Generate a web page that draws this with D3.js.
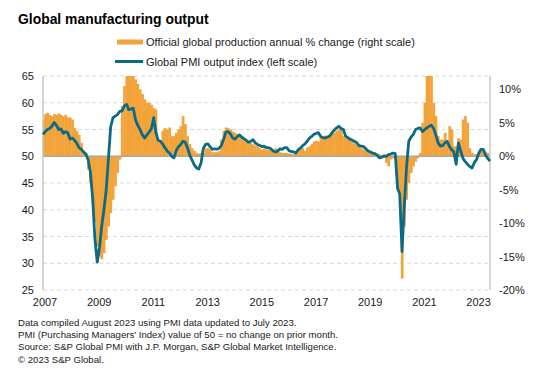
<!DOCTYPE html>
<html><head><meta charset="utf-8">
<script src="https://cdn.jsdelivr.net/npm/d3@7"></script>
<style>
body{margin:0;background:#fff}
svg{display:block;font-family:Arial,"Liberation Sans",sans-serif}
</style>
</head><body>
<svg id="chart" width="544" height="382"></svg>
<script>
// ---------- DATA (monthly, Jan 2007 onwards) ----------
const firstMonth = new Date(2007, 0, 1);

// Global PMI output index (left scale), Jan 2007 - Jul 2023
const pmiOutput = [
  54.1, 54.6, 55.0, 55.2, 55.6, 56.3, 55.8, 55.0, 55.1, 54.3, 54.6, 54.4, // 2007
  53.2, 53.4, 53.0, 52.4, 51.6, 51.3, 50.8, 50.4, 49.3, 47.0, 42.0, 34.5, // 2008
  30.2, 33.0, 36.8, 40.0, 43.5, 49.5, 55.5, 57.2, 57.5, 57.8, 58.4, 58.5, // 2009
  59.4, 59.7, 58.7, 58.8, 59.0, 56.8, 55.8, 55.0, 54.0, 53.4, 54.0, 54.5, // 2010
  55.2, 57.2, 54.6, 53.0, 52.8, 52.3, 51.6, 51.0, 50.6, 50.0, 49.7, 51.0, // 2011
  51.8, 52.2, 52.8, 52.6, 51.6, 50.2, 49.3, 48.4, 47.8, 47.6, 48.8, 51.5, // 2012
  52.2, 52.3, 51.8, 51.3, 51.4, 51.3, 51.5, 52.0, 53.2, 54.5, 54.6, 54.2, // 2013
  53.4, 53.2, 53.6, 54.0, 53.6, 53.3, 53.0, 52.6, 52.8, 53.1, 52.5, 52.2, // 2014
  52.0, 51.8, 51.9, 51.6, 51.6, 51.4, 51.0, 50.8, 51.0, 51.4, 51.3, 51.6, // 2015
  51.6, 51.0, 50.9, 50.8, 50.6, 51.2, 51.5, 52.0, 52.3, 52.8, 53.4, 53.7, // 2016
  54.1, 54.3, 54.4, 53.7, 53.5, 53.4, 53.6, 53.8, 54.4, 54.9, 55.3, 55.6, // 2017
  55.2, 55.0, 53.8, 53.5, 53.2, 53.0, 52.8, 52.5, 52.0, 51.9, 51.8, 51.4, // 2018
  51.0, 50.8, 50.6, 50.5, 50.2, 49.7, 49.8, 50.0, 50.0, 50.3, 50.4, 50.6, // 2019
  50.5, 44.0, 43.0, 32.2, 40.5, 48.0, 52.8, 53.6, 54.1, 55.0, 55.2, 55.3, // 2020
  54.6, 55.0, 55.3, 55.6, 55.8, 55.2, 54.0, 52.5, 51.9, 52.0, 52.5, 52.8, // 2021
  51.8, 51.2, 50.8, 48.5, 52.5, 51.0, 49.6, 49.0, 48.5, 48.1, 47.8, 48.8, // 2022
  49.4, 50.6, 51.3, 51.3, 50.2, 49.6, 49.1                                // 2023
];

// Official global production annual % change (right scale), Jan 2007 - Jun 2023
const productionChange = [
  5.5, 6.3, 6.5, 6.2, 6.0, 6.3, 6.2, 6.4, 6.2, 6.0, 6.2, 5.8,             // 2007
  5.8, 5.5, 4.2, 3.8, 3.2, 2.0, 0.8, 0.3, -2.0, -4.0, -7.0, -10.0,        // 2008
  -13.5, -15.0, -15.4, -14.5, -12.5, -10.5, -8.5, -6.5, -4.5, -2.5, -0.5, 7.5, // 2009
  10.5, 12.8, 13.0, 12.8, 12.5, 11.5, 10.8, 10.0, 9.3, 8.5, 8.0, 8.0,     // 2010
  7.7, 7.2, 7.0, 2.5, 2.0, 3.8, 4.2, 4.0, 4.3, 3.0, 3.0, 3.5,             // 2011
  4.0, 4.5, 6.0, 4.8, 3.0, 1.8, 1.2, 0.8, 0.5, 0.4, 0.5, 0.5,             // 2012
  1.2, 1.2, 1.0, 0.6, 0.6, 0.6, 0.8, 2.5, 3.8, 4.3, 4.2, 4.0,             // 2013
  3.7, 3.5, 3.3, 3.3, 2.8, 2.4, 2.2, 2.0, 2.0, 1.8, 1.6, 1.5,             // 2014
  1.2, 1.0, 1.2, 1.0, 1.0, 1.0, 0.9, 1.2, 1.1, 0.6, 0.5, 0.5,             // 2015
  0.5, 0.4, 0.4, 0.3, 0.4, 0.8, 1.0, 1.2, 0.8, 1.3, 1.5, 1.8,             // 2016
  2.2, 2.3, 2.2, 2.8, 3.0, 3.1, 3.0, 3.2, 3.4, 3.5, 3.8, 4.0,             // 2017
  4.2, 3.0, 2.8, 2.7, 2.6, 2.2, 1.9, 1.7, 1.6, 1.2, 1.0, 0.9,             // 2018
  0.8, 0.6, 0.5, 0.4, 0.4, 0.3, 0.2, 0.3, -1.0, -1.5, -0.5, -0.3,         // 2019
  -0.5, -5.0, -5.5, -18.3, -10.5, -6.5, -4.0, -2.5, -1.5, -0.8, -0.3, 0.5, // 2020
  5.0, 8.0, 12.5, 14.0, 14.0, 8.0, 6.0, 3.0, 2.5, 2.5, 3.5, 2.2,          // 2021
  4.5, 4.0, 1.5, 1.5, 2.7, 2.5, 5.5, 6.0, 5.0, 1.2, 0.5, 0.3,             // 2022
  0.3, 0.5, 0.8, 1.0, 0.7, 0.5                                            // 2023
];

const yearTicks = [2007, 2009, 2011, 2013, 2015, 2017, 2019, 2021, 2023];
const leftTicks = [25, 30, 35, 40, 45, 50, 55, 60, 65];
const rightTicks = [-20, -15, -10, -5, 0, 5, 10];

const titleText = "Global manufacturing output";
const legendLabels = ["Official global production annual % change (right scale)",
                      "Global PMI output index (left scale)"];
const footnotes = [
  "Data compiled August 2023 using PMI data updated to July 2023.",
  "PMI (Purchasing Managers' Index) value of 50 = no change on prior month.",
  "Source: S&P Global PMI with J.P. Morgan, S&P Global Market Intelligence.",
  "\u00A9 2023 S&P Global."
];

// ---------- DRAW ----------
const orange = "#F2A33A", teal = "#0B6B87", grid = "#D9D9D9", axisGrey = "#A6A6A6", txt = "#1a1a1a";
const svg = d3.select("#chart");
const L = 43, R = 490, T = 76, B = 290;

const monthDate = i => d3.timeMonth.offset(firstMonth, i);
const x = d3.scaleTime().domain([firstMonth, monthDate(pmiOutput.length - 1)]).range([L, R]);
const yL = d3.scaleLinear().domain([25, 65]).range([B, T]);
const yR = d3.scaleLinear().domain([-20, 12]).range([B, T]);

svg.append("defs").append("clipPath").attr("id", "plot")
  .append("rect").attr("x", L).attr("y", T).attr("width", R - L).attr("height", B - T);

// title
svg.append("text").attr("x", 18).attr("y", 24).attr("font-size", 13.9).attr("font-weight", "bold")
  .attr("fill", "#000").text(titleText);

// legend
svg.append("rect").attr("x", 117).attr("y", 39.5).attr("width", 26).attr("height", 5).attr("fill", orange);
svg.append("text").attr("x", 146).attr("y", 46).attr("font-size", 11).attr("fill", txt).text(legendLabels[0]);
svg.append("line").attr("x1", 115).attr("x2", 143).attr("y1", 61.5).attr("y2", 61.5)
  .attr("stroke", teal).attr("stroke-width", 3);
svg.append("text").attr("x", 146).attr("y", 65.5).attr("font-size", 11).attr("fill", txt).text(legendLabels[1]);

// gridlines
svg.append("g").selectAll("line").data(leftTicks.filter(d => d !== 50)).join("line")
  .attr("x1", L).attr("x2", R).attr("y1", d => yL(d)).attr("y2", d => yL(d))
  .attr("stroke", grid).attr("stroke-width", 1).attr("stroke-dasharray", "4,3");

// bars
const step = x(monthDate(1)) - x(monthDate(0));
svg.append("g").attr("clip-path", "url(#plot)").selectAll("rect").data(productionChange).join("rect")
  .attr("x", (d, i) => x(monthDate(i)) - step / 2)
  .attr("width", step + 0.4)
  .attr("y", d => Math.min(yR(d), yR(0)))
  .attr("height", d => Math.abs(yR(d) - yR(0)))
  .attr("fill", orange);

// zero / 50 line
svg.append("line").attr("x1", L).attr("x2", R).attr("y1", yL(50)).attr("y2", yL(50))
  .attr("stroke", axisGrey).attr("stroke-width", 1.5);

// axes lines
svg.append("line").attr("x1", L).attr("x2", L).attr("y1", T).attr("y2", B).attr("stroke", "#BFBFBF").attr("stroke-width", 1.3);
svg.append("line").attr("x1", R).attr("x2", R).attr("y1", T).attr("y2", B).attr("stroke", "#BFBFBF").attr("stroke-width", 1.3);

// PMI line
svg.append("path").datum(pmiOutput)
  .attr("d", d3.line().x((d, i) => x(monthDate(i))).y(d => yL(d)).curve(d3.curveLinear))
  .attr("fill", "none").attr("stroke", teal).attr("stroke-width", 2.8).attr("stroke-linejoin", "round");

// left axis
const gl = svg.append("g").attr("transform", `translate(${L},0)`)
  .call(d3.axisLeft(yL).tickValues(leftTicks).tickSize(0).tickPadding(9).tickFormat(d3.format("d")));
// right axis
const gr = svg.append("g").attr("transform", `translate(${R},0)`)
  .call(d3.axisRight(yR).tickValues(rightTicks).tickSize(0).tickPadding(9).tickFormat(d => d + "%"));
// bottom axis
const gb = svg.append("g").attr("transform", `translate(1.5,${B})`)
  .call(d3.axisBottom(x).tickValues(yearTicks.map(yv => new Date(yv, 0, 1))).tickSize(0).tickPadding(8)
    .tickFormat(d3.timeFormat("%Y")));
[gl, gr, gb].forEach(g => {
  g.select(".domain").remove();
  g.selectAll("text").attr("font-size", 11).attr("fill", txt).attr("font-family", "Arial, 'Liberation Sans', sans-serif");
});

// footnotes
svg.append("g").selectAll("text").data(footnotes).join("text")
  .attr("x", 18).attr("y", (d, i) => 326 + i * 12.2)
  .attr("font-size", 9.6).attr("fill", txt).text(d => d);
</script>
</body></html>
